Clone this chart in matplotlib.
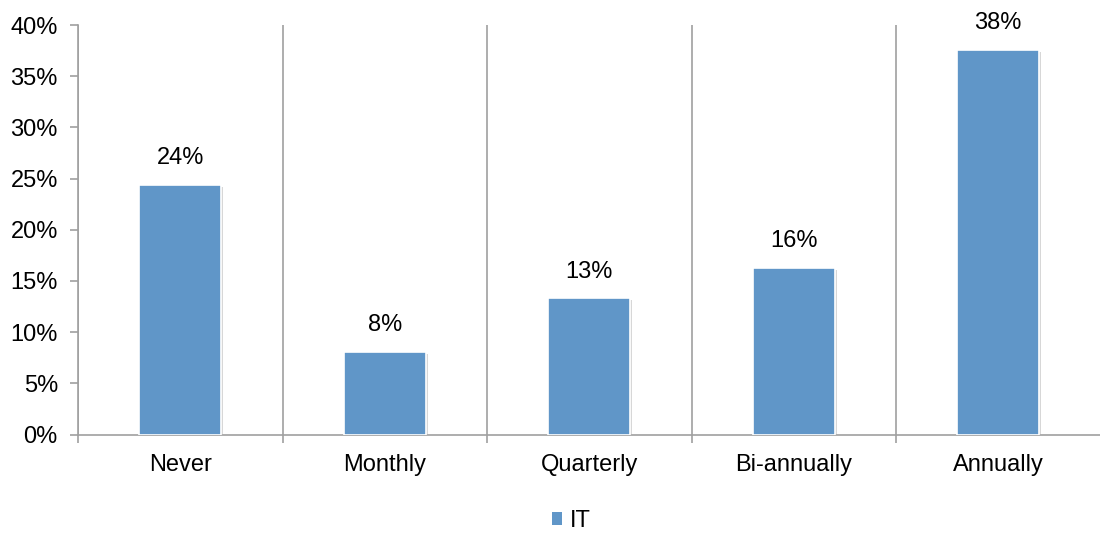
import matplotlib
matplotlib.use("Agg")
import matplotlib.pyplot as plt
import matplotlib.patheffects as pe
from matplotlib.patches import Patch
from matplotlib.ticker import FuncFormatter, MultipleLocator
import numpy as np

plt.rcParams['font.family'] = ['Liberation Sans', 'DejaVu Sans']

categories = ["Never", "Monthly", "Quarterly", "Bi-annually", "Annually"]
values = [24.4, 8.1, 13.3, 16.3, 37.6]
labels = ["24%", "8%", "13%", "16%", "38%"]
series_name = "IT"

bar_color = "#6096C8"
axis_color = "#A0A0A0"
fs = 17

fig = plt.figure(figsize=(11, 5.33), dpi=100)
ax = fig.add_axes([78/1100, 1 - 434.5/533, (1100.5 - 78)/1100, 409.5/533])

x = np.arange(len(categories))
bars = ax.bar(x, values, width=0.4, color=bar_color, edgecolor="white", linewidth=1.2,
              label=series_name, zorder=3)
for b in bars:
    b.set_path_effects([pe.SimplePatchShadow(offset=(1.5, -1.5), shadow_rgbFace="#B0B0B0", alpha=0.5),
                        pe.Normal()])

for xi, v, lab in zip(x, values, labels):
    ax.annotate(lab, (xi, v), xytext=(0, 11), textcoords="offset points",
                ha="center", va="bottom", fontsize=fs, color="black")

ax.set_xlim(-0.5, len(categories) - 0.5)
ax.set_ylim(0, 40)
ax.yaxis.set_major_locator(MultipleLocator(5))
ax.yaxis.set_major_formatter(FuncFormatter(lambda v, p: f"{v:.0f}%"))

ax.set_xticks(x)
ax.set_xticklabels(categories)
ax.set_xticks(np.arange(len(categories) + 1) - 0.5, minor=True)
ax.tick_params(axis="x", which="major", length=0, pad=14, labelsize=fs)
ax.tick_params(axis="x", which="minor", length=5.5, color=axis_color, width=1.2)
ax.tick_params(axis="y", which="major", length=5.5, color=axis_color, width=1.2, labelsize=fs, pad=9)

ax.grid(axis="x", which="minor", color=axis_color, linewidth=1.2, zorder=0)
ax.grid(axis="y", visible=False)

for s in ["top", "right"]:
    ax.spines[s].set_visible(False)
ax.spines["left"].set_color(axis_color)
ax.spines["left"].set_linewidth(1.2)
ax.spines["bottom"].set_color(axis_color)
ax.spines["bottom"].set_linewidth(1.2)

handle = Patch(facecolor=bar_color, edgecolor="none")
fig.legend(handles=[handle], labels=[series_name], loc="center", bbox_to_anchor=(571/1100, 1 - 521/533),
           frameon=False, fontsize=fs, handlelength=0.45, handleheight=0.45, handletextpad=0.3,
           borderpad=0, borderaxespad=0)

fig.savefig("out.png", dpi=100)
